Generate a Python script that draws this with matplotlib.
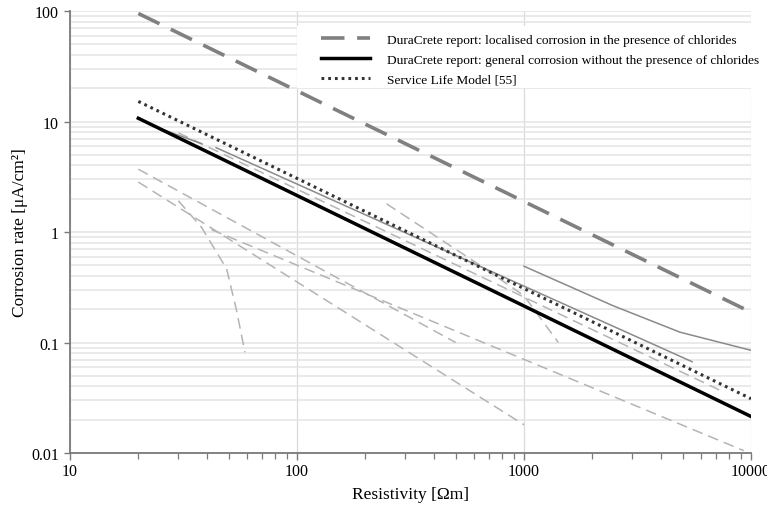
import matplotlib
matplotlib.use("Agg")
import matplotlib.pyplot as plt
from matplotlib.patches import Rectangle
from matplotlib.ticker import FixedLocator, FixedFormatter, LogLocator, NullFormatter

plt.rcParams['font.family'] = ['Liberation Serif', 'DejaVu Serif']

# ---- data ----
res_localised = [20, 10000]
rate_localised = [95, 0.188]

res_general = [20, 10000]
rate_general = [10.7, 0.0214]

res_slm = [20, 10000]
rate_slm = [15.2, 0.031]

# thin light-grey dashed curves (other models)
res_d1 = [20, 500]
rate_d1 = [3.7, 0.1]
res_d2 = [20, 1000]
rate_d2 = [2.83, 0.018]
res_d3 = [42, 9300]
rate_d3 = [1.05, 0.0105]
res_d4 = [30, 38, 49, 54, 59]
rate_d4 = [1.92, 1.10, 0.463, 0.20, 0.0815]
res_d5 = [248, 640, 1000, 1416]
rate_d5 = [1.8, 0.5, 0.265, 0.1]
res_d6 = [30, 7500]
rate_d6 = [7.9, 0.036]

# thin mid-grey solid curves
res_s1 = [24, 38]
rate_s1 = [8.9, 6.3]
res_s2 = [44, 5500]
rate_s2 = [5.8, 0.067]
res_s3 = [1000, 2470, 4865, 10000]
rate_s3 = [0.49, 0.215, 0.124, 0.085]

x_ticks = [10, 100, 1000, 10000]
x_ticklabels = ["10", "100", "1000", "10000"]
y_ticks = [0.01, 0.1, 1, 10, 100]
y_ticklabels = ["0.01", "0.1", "1", "10", "100"]

labels = [
    "DuraCrete report: localised corrosion in the presence of chlorides",
    "DuraCrete report: general corrosion without the presence of chlorides",
    "Service Life Model [55]",
]

W, H = 767, 506
fig = plt.figure(figsize=(W / 100, H / 100), dpi=100)
L, R, T, B = 70, 751, 12, 454
ax = fig.add_axes([L / W, 1 - B / H, (R - L) / W, (B - T) / H])
ax.set_xscale('log')
ax.set_yscale('log')
ax.set_xlim(10, 10000)
ax.set_ylim(0.01, 100)

# grid
ax.set_axisbelow(True)
ax.yaxis.set_minor_locator(LogLocator(base=10, subs=range(2, 10)))
ax.yaxis.set_minor_formatter(NullFormatter())
ax.grid(True, which='both', axis='y', color='#e4e4e4', lw=1.1)
ax.grid(True, which='major', axis='x', color='#dadada', lw=0.9)

# white legend background covering grid
ax.add_patch(Rectangle(((297 - L) / (R - L), (B - 89) / (B - T)),
                       (R - 297) / (R - L), 62 / (B - T),
                       transform=ax.transAxes, facecolor='white',
                       edgecolor='none', zorder=1))

light = '#b4b4b4'
mid = '#8a8a8a'
dash_thin = (0, (7, 4))
for xs, ys in [(res_d1, rate_d1), (res_d2, rate_d2), (res_d3, rate_d3),
               (res_d4, rate_d4), (res_d5, rate_d5), (res_d6, rate_d6)]:
    ax.plot(xs, ys, color=light, lw=1.1, ls=dash_thin, zorder=2)
for xs, ys in [(res_s1, rate_s1), (res_s2, rate_s2), (res_s3, rate_s3)]:
    ax.plot(xs, ys, color=mid, lw=1.1, ls='-', zorder=2)

h1, = ax.plot(res_localised, rate_localised, color='#808080', lw=2.6,
              ls=(0, (6.5, 3.5)), zorder=3, label=labels[0])
h2, = ax.plot(res_general, rate_general, color='black', lw=2.5,
              ls='-', zorder=3, label=labels[1])
h3, = ax.plot(res_slm, rate_slm, color='#333333', lw=2.2,
              ls=(0, (0.9, 1.3)), zorder=3, label=labels[2])

leg = ax.legend(handles=[h1, h2, h3], loc='upper left',
                bbox_to_anchor=((318 - L) / (R - L), (B - 32) / (B - T)),
                frameon=False, fontsize=9.6, handlelength=3.7,
                handletextpad=1.3, labelspacing=0.55, borderaxespad=0,
                borderpad=0.2)
leg.set_zorder(5)

# axes styling
for s in ['top', 'right']:
    ax.spines[s].set_visible(False)
for s in ['left', 'bottom']:
    ax.spines[s].set_color('#7a7a7a')
    ax.spines[s].set_linewidth(1.3)

ax.xaxis.set_major_locator(FixedLocator(x_ticks))
ax.xaxis.set_major_formatter(FixedFormatter(x_ticklabels))
ax.xaxis.set_minor_locator(LogLocator(base=10, subs=range(2, 10)))
ax.xaxis.set_minor_formatter(NullFormatter())
ax.yaxis.set_major_locator(FixedLocator(y_ticks))
ax.yaxis.set_major_formatter(FixedFormatter(y_ticklabels))

ax.tick_params(axis='x', which='major', direction='out', length=5,
               color='#7a7a7a', width=1, labelsize=11.5, pad=2)
ax.tick_params(axis='x', which='minor', direction='out', length=4,
               color='#7a7a7a', width=0.9)
ax.tick_params(axis='y', which='major', direction='out', length=4,
               color='#7a7a7a', width=1, labelsize=11.5, pad=4)
ax.tick_params(axis='y', which='minor', length=0)

ax.set_xlabel("Resistivity [Ωm]", fontsize=12.5, labelpad=5)
ax.set_ylabel("Corrosion rate [μA/cm²]", fontsize=12.5, labelpad=2)

fig.savefig("out.png", dpi=100)
